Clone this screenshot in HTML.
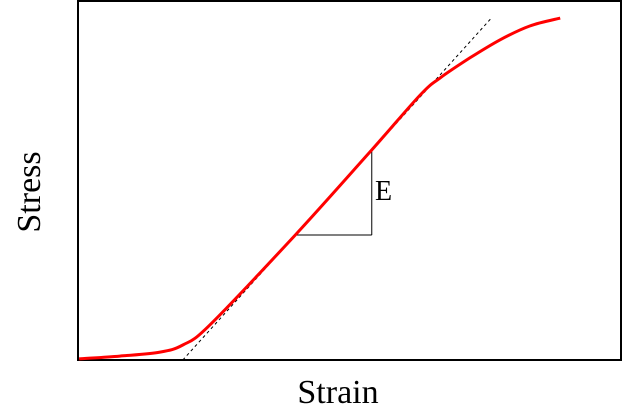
<!DOCTYPE html>
<html><head><meta charset="utf-8"><style>
html,body{margin:0;padding:0;background:#fff;width:625px;height:418px;overflow:hidden}
text{font-family:"Liberation Serif",serif}
</style></head><body>
<svg id="chart" width="625" height="418" viewBox="0 0 625 418" xmlns="http://www.w3.org/2000/svg">
<rect x="78" y="1" width="543" height="359" fill="none" stroke="#000" stroke-width="2"/>
<g id="marks"></g>
<text x="338" y="403" font-size="34" text-anchor="middle">Strain</text>
<text transform="translate(40,192) rotate(-90)" font-size="34" text-anchor="middle">Stress</text>
<text x="375" y="200" font-size="28">E</text>
</svg>
<script>
const strain=[0.2,7.7,15.1,19.3,24.3,40,54.1,63,66.7,72.2,77.7,83.2,88.8];
const stress=[0.3,1.1,2.2,4.2,9.8,34.9,58.7,74,78.8,84.4,89.4,93.3,95.5];
const tangentStrain=[19.3,76];
const tangentStress=[0,95.3];
const triStrain=[40,54.1];
const triStress=[34.9,58.7];
const xs=d=>78+d*5.43, ys=v=>360-v*3.58;
const NS="http://www.w3.org/2000/svg", g=document.getElementById('marks');
function ln(x1,y1,x2,y2,st,w,dash){const l=document.createElementNS(NS,'line');l.setAttribute('x1',x1);l.setAttribute('y1',y1);l.setAttribute('x2',x2);l.setAttribute('y2',y2);l.setAttribute('stroke',st);l.setAttribute('stroke-width',w);if(dash)l.setAttribute('stroke-dasharray',dash);g.appendChild(l);return l;}
const t=ln(xs(tangentStrain[0]),ys(tangentStress[0]),xs(tangentStrain[1]),ys(tangentStress[1]),'#000',1,'3,3');


const h=ln(xs(triStrain[0]),ys(triStress[0]),xs(triStrain[1]),ys(triStress[0]),'#000',1);


const v=ln(xs(triStrain[1]),ys(triStress[0]),xs(triStrain[1]),ys(triStress[1]),'#000',1);


const P=strain.map((s,i)=>[xs(s),ys(stress[i])]);
let d='M'+P[0][0].toFixed(1)+','+P[0][1].toFixed(1);
for(let i=0;i<P.length-1;i++){
  const p0=P[Math.max(i-1,0)],p1=P[i],p2=P[i+1],p3=P[Math.min(i+2,P.length-1)];
  const c1=[p1[0]+(p2[0]-p0[0])/6,p1[1]+(p2[1]-p0[1])/6];
  const c2=[p2[0]-(p3[0]-p1[0])/6,p2[1]-(p3[1]-p1[1])/6];
  d+='C'+c1.map(n=>n.toFixed(1)).join(',')+' '+c2.map(n=>n.toFixed(1)).join(',')+' '+p2.map(n=>n.toFixed(1)).join(',');
}
const p=document.createElementNS(NS,'path');
p.setAttribute('d',d);p.setAttribute('fill','none');p.setAttribute('stroke','#f00');p.setAttribute('stroke-width','3');p.setAttribute('stroke-linejoin','round');


g.appendChild(p);
</script>
</body></html>
